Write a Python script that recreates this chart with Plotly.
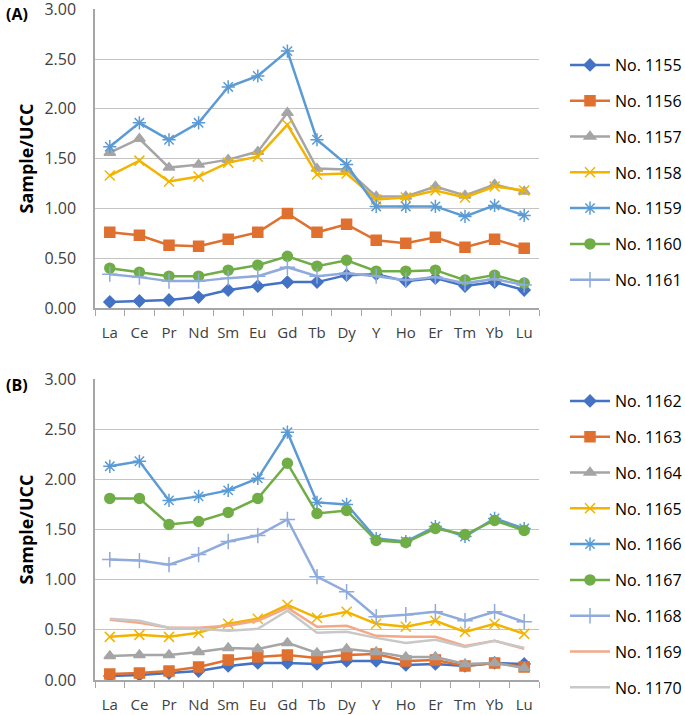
import plotly.graph_objects as go

elements = ["La", "Ce", "Pr", "Nd", "Sm", "Eu", "Gd", "Tb", "Dy", "Y", "Ho", "Er", "Tm", "Yb", "Lu"]
y_ticks = [0, 0.5, 1.0, 1.5, 2.0, 2.5, 3.0]

# Panel A
s1155 = [0.06, 0.07, 0.08, 0.11, 0.18, 0.22, 0.26, 0.26, 0.33, 0.34, 0.27, 0.30, 0.22, 0.26, 0.18]
s1156 = [0.76, 0.73, 0.63, 0.62, 0.69, 0.76, 0.95, 0.76, 0.84, 0.68, 0.65, 0.71, 0.61, 0.69, 0.60]
s1157 = [1.56, 1.70, 1.41, 1.44, 1.49, 1.57, 1.96, 1.40, 1.39, 1.12, 1.12, 1.22, 1.13, 1.24, 1.17]
s1158 = [1.33, 1.48, 1.27, 1.32, 1.46, 1.52, 1.84, 1.34, 1.35, 1.09, 1.11, 1.18, 1.11, 1.22, 1.18]
s1159 = [1.62, 1.86, 1.69, 1.86, 2.22, 2.33, 2.58, 1.69, 1.44, 1.02, 1.02, 1.02, 0.92, 1.03, 0.93]
s1160 = [0.40, 0.36, 0.32, 0.32, 0.38, 0.43, 0.52, 0.42, 0.48, 0.37, 0.37, 0.38, 0.28, 0.33, 0.25]
s1161 = [0.34, 0.31, 0.27, 0.27, 0.30, 0.32, 0.41, 0.32, 0.35, 0.32, 0.28, 0.31, 0.25, 0.29, 0.23]

# Panel B
s1162 = [0.04, 0.05, 0.07, 0.09, 0.14, 0.17, 0.17, 0.16, 0.19, 0.19, 0.15, 0.16, 0.14, 0.17, 0.16]
s1163 = [0.06, 0.07, 0.09, 0.13, 0.20, 0.23, 0.25, 0.22, 0.25, 0.26, 0.19, 0.20, 0.14, 0.17, 0.13]
s1164 = [0.24, 0.25, 0.25, 0.28, 0.32, 0.31, 0.37, 0.27, 0.31, 0.28, 0.23, 0.23, 0.16, 0.17, 0.12]
s1165 = [0.43, 0.45, 0.43, 0.47, 0.56, 0.61, 0.75, 0.62, 0.68, 0.56, 0.53, 0.59, 0.48, 0.56, 0.46]
s1166 = [2.13, 2.18, 1.79, 1.83, 1.89, 2.01, 2.47, 1.77, 1.75, 1.41, 1.38, 1.53, 1.43, 1.61, 1.51]
s1167 = [1.81, 1.81, 1.55, 1.58, 1.67, 1.81, 2.16, 1.66, 1.69, 1.39, 1.37, 1.51, 1.45, 1.59, 1.49]
s1168 = [1.20, 1.19, 1.15, 1.25, 1.38, 1.44, 1.60, 1.03, 0.88, 0.63, 0.65, 0.68, 0.59, 0.68, 0.58]
s1169 = [0.60, 0.57, 0.52, 0.52, 0.54, 0.59, 0.72, 0.53, 0.54, 0.44, 0.43, 0.43, 0.34, 0.39, 0.31]
s1170 = [0.61, 0.59, 0.52, 0.51, 0.49, 0.51, 0.69, 0.47, 0.48, 0.42, 0.37, 0.40, 0.33, 0.39, 0.32]

FONT = "Open Sans"

styles = [
    ("#4472C4", "diamond", 9),
    ("#E07030", "square", 10),
    ("#A5A5A5", "triangle-up", 10),
    ("#F2B400", "x-thin-open", 10),
    ("#5B9BD5", "asterisk-open", 11),
    ("#70AD47", "circle", 10),
    ("#8FAADC", "cross-thin-open", 11),
]

panel_a = [("No. 1155", s1155), ("No. 1156", s1156), ("No. 1157", s1157), ("No. 1158", s1158),
           ("No. 1159", s1159), ("No. 1160", s1160), ("No. 1161", s1161)]
panel_b = [("No. 1162", s1162), ("No. 1163", s1163), ("No. 1164", s1164), ("No. 1165", s1165),
           ("No. 1166", s1166), ("No. 1167", s1167), ("No. 1168", s1168), ("No. 1169", s1169),
           ("No. 1170", s1170)]
styles_b = styles + [("#F4A888", None, 0), ("#C8C8C8", None, 0)]

fig = go.Figure()

def add(series, stys, xa, ya, leg):
    for (name, vals), (col, sym, sz) in zip(series, stys):
        if sym is None:
            mode = "lines"
            marker = None
        else:
            mode = "lines+markers"
            marker = dict(symbol=sym, size=sz, color=col, line=dict(color=col, width=1.5))
        fig.add_trace(go.Scatter(
            x=elements, y=vals, name=name, mode=mode,
            line=dict(color=col, width=2.5), marker=marker,
            xaxis=xa, yaxis=ya, legend=leg, legendgroup=name,
        ))

add(panel_a, styles, "x", "y", "legend")
add(panel_b, styles_b, "x2", "y2", "legend2")

W, H = 685, 715
ml, mr, mt, mb = 95, 146, 9, 35
ph = H - mt - mb
pw = W - ml - mr

def xax(anchor):
    return dict(
        type="category", range=[-0.5, 14.5], domain=[0, 1], anchor=anchor,
        showline=True, linecolor="#A6A6A6", linewidth=1.5,
        ticks="outside", tickson="boundaries", ticklen=6, tickcolor="#A6A6A6",
        showgrid=False, tickfont=dict(family=FONT, size=15, color="#404040"),
        tickangle=0, ticklabelstandoff=10, automargin=False,
    )

def yax(dom, anchor, top):
    return dict(
        range=[0, top], domain=dom, anchor=anchor, tickvals=y_ticks, tickformat=".2f",
        showline=True, linecolor="#A6A6A6", linewidth=1.5,
        showgrid=True, gridcolor="#C4C4C4", gridwidth=1.2, zeroline=False,
        tickfont=dict(family=FONT, size=16, color="#404040"), ticklabelstandoff=14,
        ticklabeloverflow="allow",
        title=dict(text="<b>Sample/UCC</b>", font=dict(family=FONT, size=18, color="black"), standoff=6),
        automargin=False,
    )

dom_a = [(H - mb - 308) / ph, 1.0]
dom_b = [0.0, (H - mb - 379) / ph]

leg_common = dict(
    font=dict(family=FONT, size=16, color="black"), bgcolor="rgba(0,0,0,0)",
    tracegroupgap=12, itemwidth=40, xanchor="left", yanchor="top", x=(565 - ml) / pw,
)

def py(ypix):
    return (H - ypix - mb) / ph

fig.update_layout(
    width=W, height=H, margin=dict(l=ml, r=mr, t=mt, b=mb, autoexpand=False),
    paper_bgcolor="white", plot_bgcolor="white",
    xaxis=xax("y"), yaxis=yax(dom_a, "x", 3.003),
    xaxis2=xax("y2"), yaxis2=yax(dom_b, "x2", 3.0),
    legend=dict(**leg_common, y=py(48)),
    legend2=dict(**leg_common, y=py(384)),
    showlegend=True,
    annotations=[
        dict(text="<b>(A)</b>", x=(4 - ml) / pw, y=py(14), xref="paper", yref="paper", showarrow=False,
             font=dict(family=FONT, size=16, color="black"), xanchor="left", yanchor="middle"),
        dict(text="<b>(B)</b>", x=(4 - ml) / pw, y=py(385), xref="paper", yref="paper", showarrow=False,
             font=dict(family=FONT, size=16, color="black"), xanchor="left", yanchor="middle"),
    ],
)

fig.write_html("out.html", config={"displayModeBar": False},
               post_script="document.body.style.margin='0';document.body.style.overflow='hidden';")
